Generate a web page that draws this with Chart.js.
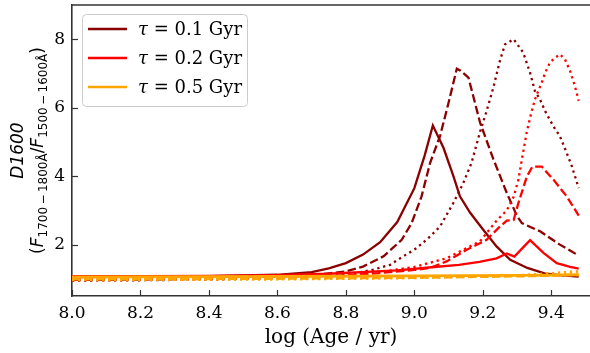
<!DOCTYPE html>
<html>
<head>
<meta charset="utf-8">
<script src="https://cdn.jsdelivr.net/npm/chart.js@4.4.1/dist/chart.umd.min.js"></script>
<style>
  html, body { margin: 0; padding: 0; background: #fff; }
  #c { display: block; }
</style>
</head>
<body>
<canvas id="c" width="590" height="353" style="width:590px;height:353px"></canvas>
<script>
// ---- data: log(age/yr) vs D1600 ----
var tauLabels = ['0.1', '0.2', '0.5'];

// tau = 0.1 Gyr
var age01Solid = [8.0, 8.2, 8.4, 8.6, 8.7, 8.75, 8.8, 8.85, 8.9, 8.95, 9.0, 9.03, 9.054, 9.085, 9.114, 9.133, 9.163, 9.2, 9.24, 9.28, 9.33, 9.38, 9.43, 9.48];
var d01Solid = [1.05, 1.06, 1.08, 1.12, 1.2, 1.31, 1.46, 1.71, 2.07, 2.66, 3.65, 4.6, 5.48, 4.83, 4.0, 3.41, 2.93, 2.45, 1.95, 1.56, 1.32, 1.16, 1.1, 1.07];
var age01Dash = [8.0, 8.2, 8.4, 8.6, 8.7, 8.75, 8.8, 8.85, 8.91, 8.963, 8.992, 9.021, 9.046, 9.075, 9.1, 9.114, 9.124, 9.135, 9.158, 9.192, 9.231, 9.27, 9.3, 9.314, 9.367, 9.425, 9.48];
var d01Dash = [0.97, 0.98, 1.0, 1.05, 1.11, 1.16, 1.22, 1.36, 1.66, 2.14, 2.63, 3.41, 4.39, 5.17, 6.15, 6.73, 7.14, 7.08, 6.88, 5.56, 4.49, 3.51, 2.83, 2.63, 2.39, 2.0, 1.68];
var age01Dot = [8.0, 8.2, 8.4, 8.6, 8.7, 8.78, 8.831, 8.88, 8.929, 8.968, 9.007, 9.046, 9.075, 9.114, 9.143, 9.167, 9.192, 9.211, 9.231, 9.25, 9.265, 9.29, 9.318, 9.338, 9.352, 9.367, 9.382, 9.406, 9.425, 9.445, 9.46, 9.48];
var d01Dot = [0.95, 0.96, 0.98, 1.02, 1.07, 1.12, 1.17, 1.27, 1.41, 1.66, 1.9, 2.24, 2.53, 3.22, 3.8, 4.39, 5.3, 5.9, 6.6, 7.38, 7.85, 8.0, 7.61, 7.02, 6.49, 6.24, 5.9, 5.46, 5.17, 4.68, 4.29, 3.65];

// tau = 0.2 Gyr
var age02Solid = [8.0, 8.2, 8.4, 8.6, 8.75, 8.95, 9.05, 9.13, 9.19, 9.24, 9.27, 9.292, 9.338, 9.377, 9.416, 9.455, 9.48];
var d02Solid = [1.08, 1.08, 1.09, 1.11, 1.15, 1.25, 1.34, 1.41, 1.5, 1.6, 1.74, 1.65, 2.13, 1.76, 1.46, 1.35, 1.3];
var age02Dash = [8.0, 8.2, 8.4, 8.6, 8.8, 8.9, 9.0, 9.046, 9.094, 9.153, 9.211, 9.25, 9.27, 9.29, 9.304, 9.329, 9.345, 9.372, 9.406, 9.445, 9.48];
var d02Dash = [0.99, 1.0, 1.01, 1.04, 1.1, 1.17, 1.26, 1.32, 1.51, 1.85, 2.14, 2.53, 2.7, 2.72, 3.22, 4.0, 4.28, 4.28, 3.9, 3.41, 2.85];
var age02Dot = [8.0, 8.2, 8.4, 8.6, 8.8, 8.9, 9.0, 9.094, 9.192, 9.24, 9.27, 9.29, 9.304, 9.314, 9.328, 9.338, 9.352, 9.362, 9.372, 9.382, 9.396, 9.411, 9.425, 9.44, 9.455, 9.469, 9.48];
var d02Dot = [0.96, 0.97, 0.99, 1.02, 1.1, 1.2, 1.35, 1.6, 2.1, 2.7, 3.0, 3.4, 3.9, 4.49, 5.27, 5.71, 6.24, 6.49, 6.73, 7.02, 7.32, 7.46, 7.56, 7.41, 7.07, 6.63, 6.2];

// tau = 0.5 Gyr
var age05 = [8.0, 8.6, 9.0, 9.3, 9.4, 9.48];
var d05Solid = [1.06, 1.07, 1.09, 1.1, 1.11, 1.12];
var d05Dash = [0.99, 1.01, 1.04, 1.08, 1.1, 1.12];
var d05Dot = [0.97, 0.99, 1.03, 1.1, 1.16, 1.22];

var xTicks = [8.0, 8.2, 8.4, 8.6, 8.8, 9.0, 9.2, 9.4];
var yTicks = [2, 4, 6, 8];

// ---- styles ----
var COLORS = ['#8b0000', '#ff0000', '#ffa500'];
var LW = 2.3;
var DASHES = { solid: [], dash: [8.5, 3.5], dot: [2.3, 3.7] };
var SERIF = '"DejaVu Serif", serif';
var SANS = '"DejaVu Sans", sans-serif';

function pts(ages, vals) {
  return ages.map(function (a, i) { return { x: a, y: vals[i] }; });
}

var seriesList = [
  [age01Solid, d01Solid, 0, 'solid'],
  [age01Dash, d01Dash, 0, 'dash'],
  [age01Dot, d01Dot, 0, 'dot'],
  [age02Solid, d02Solid, 1, 'solid'],
  [age02Dash, d02Dash, 1, 'dash'],
  [age02Dot, d02Dot, 1, 'dot'],
  [age05, d05Solid, 2, 'solid'],
  [age05, d05Dash, 2, 'dash'],
  [age05, d05Dot, 2, 'dot']
];

var datasets = seriesList.map(function (s, i) {
  return {
    label: 'tau=' + tauLabels[s[2]] + ' ' + s[3],
    data: pts(s[0], s[1]),
    borderColor: COLORS[s[2]],
    borderWidth: s[2] === 2 ? 2.8 : LW,
    borderDash: DASHES[s[3]],
    pointRadius: 0,
    tension: 0,
    fill: false,
    order: seriesList.length - 1 - i
  };
});

// matplotlib-ish decorations: top spine, inward ticks, legend box, y label with subscripts
var mplDecor = {
  id: 'mplDecor',
  afterDraw: function (chart) {
    var ctx = chart.ctx;
    var a = chart.chartArea;
    var xs = chart.scales.x, ys = chart.scales.y;
    ctx.save();
    ctx.strokeStyle = '#333';
    ctx.lineWidth = 1.6;
    ctx.beginPath();
    ctx.moveTo(a.left - 0.8, a.top);
    ctx.lineTo(a.right + 2, a.top);
    ctx.stroke();

    ctx.lineWidth = 1.2;
    xTicks.forEach(function (v) {
      var px = Math.round(xs.getPixelForValue(v)) + 0.5;
      ctx.beginPath();
      ctx.moveTo(px, a.bottom);
      ctx.lineTo(px, a.bottom - 6);
      ctx.stroke();
    });
    yTicks.forEach(function (v) {
      var py = Math.round(ys.getPixelForValue(v)) + 0.5;
      ctx.beginPath();
      ctx.moveTo(a.left, py);
      ctx.lineTo(a.left + 6, py);
      ctx.stroke();
    });

    // legend
    var bx = 82, by = 14, bw = 165, bh = 92;
    ctx.beginPath();
    ctx.roundRect(bx + 0.5, by + 0.5, bw, bh, 4);
    ctx.fillStyle = 'rgba(255,255,255,0.8)';
    ctx.fill();
    ctx.strokeStyle = '#cccccc';
    ctx.lineWidth = 1;
    ctx.stroke();
    tauLabels.forEach(function (t, i) {
      var ly = 29 + i * 29;
      ctx.strokeStyle = COLORS[i];
      ctx.lineWidth = 2.6;
      ctx.setLineDash([]);
      ctx.beginPath();
      ctx.moveTo(88, ly);
      ctx.lineTo(127, ly);
      ctx.stroke();
      ctx.fillStyle = '#000';
      ctx.textBaseline = 'middle';
      ctx.textAlign = 'left';
      ctx.font = 'italic 18px ' + SERIF;
      ctx.fillText('\u03c4', 138, ly + 1);
      var w = ctx.measureText('\u03c4').width;
      ctx.font = '18px ' + SERIF;
      ctx.fillText(' = ' + t + ' Gyr', 138 + w, ly + 1);
    });

    // y axis label, two rotated lines
    var cy = (a.top + a.bottom) / 2;
    ctx.fillStyle = '#000';
    ctx.textBaseline = 'alphabetic';
    ctx.save();
    ctx.translate(23, cy);
    ctx.rotate(-Math.PI / 2);
    ctx.textAlign = 'center';
    ctx.font = 'italic 17px ' + SANS;
    ctx.fillText('D1600', 0, 0);
    ctx.restore();

    var parts = [
      { t: '(', f: '17px ' + SANS, dy: 0 },
      { t: 'F', f: 'italic 17px ' + SANS, dy: 0 },
      { t: '1700\u2009\u2212\u20091800\u00c5', f: '12px ' + SANS, dy: 4 },
      { t: '/', f: '17px ' + SANS, dy: 0 },
      { t: 'F', f: 'italic 17px ' + SANS, dy: 0 },
      { t: '1500\u2009\u2212\u20091600\u00c5', f: '12px ' + SANS, dy: 4 },
      { t: ')', f: '17px ' + SANS, dy: 0 }
    ];
    var total = 0;
    parts.forEach(function (p) { ctx.font = p.f; p.w = ctx.measureText(p.t).width; total += p.w; });
    ctx.save();
    ctx.translate(43, cy);
    ctx.rotate(-Math.PI / 2);
    ctx.textAlign = 'left';
    var x = -total / 2;
    parts.forEach(function (p) {
      ctx.font = p.f;
      ctx.fillText(p.t, x, p.dy);
      x += p.w;
    });
    ctx.restore();
    ctx.restore();
  }
};

new Chart(document.getElementById('c'), {
  type: 'line',
  data: { datasets: datasets },
  options: {
    responsive: false,
    animation: false,
    layout: { padding: { top: 5, right: 0, left: 0, bottom: 0 } },
    plugins: {
      legend: { display: false },
      tooltip: { enabled: false }
    },
    scales: {
      x: {
        type: 'linear',
        min: 8.0,
        max: 9.513,
        grid: { display: false, drawTicks: false },
        border: { display: true, color: '#333', width: 1.6 },
        afterFit: function (s) { s.height = 57; s.paddingLeft = 0; s.paddingRight = 0; },
        ticks: {
          stepSize: 0.2,
          includeBounds: false,
          padding: 7,
          color: '#000',
          font: { family: SERIF, size: 17 },
          maxRotation: 0,
          callback: function (v) { return Number(v).toFixed(1); }
        },
        title: {
          display: true,
          text: 'log (Age / yr)',
          color: '#000',
          font: { family: SERIF, size: 20 },
          padding: { top: 0, bottom: 3 }
        }
      },
      y: {
        type: 'linear',
        min: 0.5,
        max: 9.0,
        grid: { display: false, drawTicks: false },
        border: { display: true, color: '#333', width: 1.6 },
        afterFit: function (s) { s.width = 72; s.paddingTop = 0; s.paddingBottom = 0; },
        ticks: {
          stepSize: 2,
          includeBounds: false,
          padding: 7,
          color: '#000',
          font: { family: SERIF, size: 17 },
          callback: function (v) { return String(v); }
        }
      }
    }
  },
  plugins: [mplDecor]
});
</script>
</body>
</html>
